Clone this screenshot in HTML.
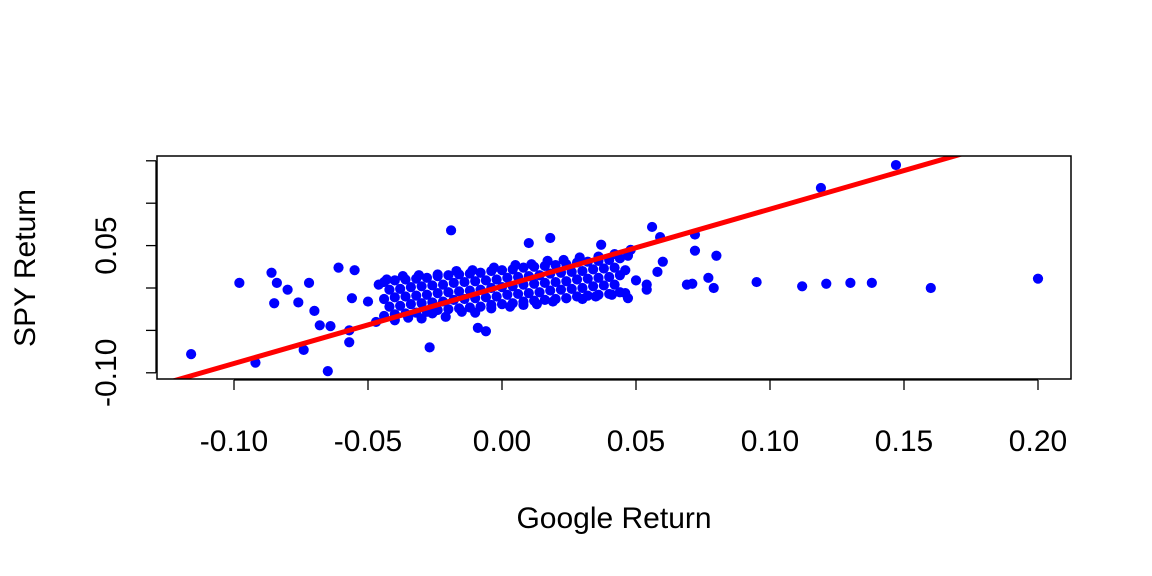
<!DOCTYPE html>
<html><head><meta charset="utf-8"><style>
html,body{margin:0;padding:0;background:#fff;}
svg{display:block;font-family:"Liberation Sans",Arial,sans-serif;}
</style></head><body>
<svg id="chart" width="1152" height="576" viewBox="0 0 1152 576"></svg>
<script>
const xTicks=[-0.10,-0.05,0.00,0.05,0.10,0.15,0.20];
const xTickLabels=["-0.10","-0.05","0.00","0.05","0.10","0.15","0.20"];
const yTicks=[-0.10,-0.05,0.00,0.05,0.10,0.15];
const yTickLabels=["-0.10","","","0.05","",""];
const fitIntercept=0.002;
const fitSlope=0.91;
// dense cloud (approximate)
const cloudX=[-0.044,-0.040,-0.036,-0.032,-0.028,-0.024,-0.020,-0.016,-0.012,-0.008,-0.004,0.000,0.004,0.008,0.012,0.016,0.020,0.024,0.028,0.032,0.036,0.040,0.044];
const cloudC=[-0.013,-0.011,-0.010,-0.009,-0.008,-0.006,-0.005,-0.004,-0.003,-0.002,0.000,0.001,0.002,0.004,0.005,0.006,0.007,0.008,0.010,0.011,0.012,0.013,0.015];
const cloudX2=[-0.042,-0.038,-0.034,-0.030,-0.026,-0.022,-0.018,-0.014,-0.010,-0.006,-0.002,0.002,0.006,0.010,0.014,0.018,0.022,0.026,0.030,0.034,0.038,0.042];
const cloudC2=[-0.012,-0.011,-0.009,-0.008,-0.007,-0.006,-0.004,-0.003,-0.002,-0.001,0.000,0.002,0.003,0.004,0.005,0.007,0.008,0.009,0.010,0.012,0.013,0.014];
const cloudOffsetsA=[-0.02,0,0.02];
const cloudOffsetsB=[-0.01,0.01];
// looser fringe of the cloud
const fringeX=[-0.047,-0.046,-0.040,-0.035,-0.030,-0.026,-0.021,-0.015,-0.010,-0.004,0.003,0.008,0.013,0.019,0.024,0.030,0.035,0.041,0.046,-0.043,-0.037,-0.031,-0.024,-0.017,-0.011,-0.003,0.005,0.011,0.017,0.023,0.029,0.036,0.042,0.047,-0.050,0.050];
const fringeY=[-0.040,0.004,-0.038,-0.035,-0.036,-0.030,-0.034,-0.028,-0.029,-0.024,-0.022,-0.020,-0.019,-0.016,-0.012,-0.013,-0.010,-0.008,-0.006,0.010,0.014,0.015,0.016,0.020,0.021,0.024,0.027,0.028,0.032,0.033,0.036,0.037,0.040,0.038,-0.016,0.009];
// outliers
const outX=[-0.116,-0.098,-0.092,-0.086,-0.085,-0.084,-0.080,-0.076,-0.074,-0.072,-0.070,-0.068,-0.064,-0.065,-0.061,-0.057,-0.057,-0.055,-0.056,-0.027,-0.019,-0.009,-0.006,0.010,0.018,0.056,0.059,0.072,0.072,0.080,0.077,0.079,0.069,0.071,0.058,0.060,0.054,0.054,0.095,0.112,0.121,0.130,0.138,0.160,0.200,0.119,0.147,0.046,0.048,0.037,0.047];
const outY=[-0.078,0.006,-0.088,0.018,-0.018,0.006,-0.002,-0.017,-0.073,0.006,-0.027,-0.044,-0.045,-0.098,0.024,-0.064,-0.050,0.021,-0.012,-0.070,0.068,-0.047,-0.051,0.053,0.059,0.072,0.060,0.063,0.044,0.038,0.012,0.000,0.004,0.005,0.019,0.031,0.004,-0.002,0.007,0.002,0.005,0.006,0.006,0.000,0.011,0.118,0.145,0.021,0.045,0.051,-0.012];

const NS="http://www.w3.org/2000/svg";
const svg=document.getElementById('chart');
const L=157,R=1071,T=156,B=379;
const xs=v=>502+v*2680;
const ys=v=>288-v*848;
function mk(t,a){const e=document.createElementNS(NS,t);for(const k in a)e.setAttribute(k,a[k]);svg.appendChild(e);return e;}

function pt(x,y){
  const c=mk('circle',{cx:xs(x),cy:ys(y),r:5.1,fill:'#0000ff'});
  
  
}
cloudX.forEach((x,i)=>cloudOffsetsA.forEach(o=>pt(x,cloudC[i]+o)));
cloudX2.forEach((x,i)=>cloudOffsetsB.forEach(o=>pt(x,cloudC2[i]+o)));
fringeX.forEach((x,i)=>pt(x,fringeY[i]));
outX.forEach((x,i)=>pt(x,outY[i]));

const defs=mk('defs',{});
const cp=document.createElementNS(NS,'clipPath');cp.setAttribute('id','clip');
const cr=document.createElementNS(NS,'rect');cr.setAttribute('x',L);cr.setAttribute('y',T);cr.setAttribute('width',R-L);cr.setAttribute('height',B-T);
cp.appendChild(cr);defs.appendChild(cp);
const x0=-0.14,x1=0.2;
const fl=mk('line',{x1:xs(x0),y1:ys(fitIntercept+fitSlope*x0),x2:xs(x1),y2:ys(fitIntercept+fitSlope*x1),stroke:'#ff0000','stroke-width':5,'clip-path':'url(#clip)'});



const bx=mk('rect',{x:L,y:T,width:R-L,height:B-T,fill:'none',stroke:'#000','stroke-width':1.5});



const xa=mk('line',{x1:xs(xTicks[0]),y1:B+1,x2:xs(xTicks[xTicks.length-1]),y2:B+1,stroke:'#000','stroke-width':1.3});


xTicks.forEach((v,i)=>{
  mk('line',{x1:xs(v),y1:B+1,x2:xs(v),y2:B+11,stroke:'#000','stroke-width':1.3});
  const t=mk('text',{x:xs(v),y:451,'font-size':30,'text-anchor':'middle',fill:'#000'});
  t.textContent=xTickLabels[i];
  
  
});
const ya=mk('line',{x1:L-1,y1:ys(yTicks[0]),x2:L-1,y2:ys(yTicks[yTicks.length-1]),stroke:'#000','stroke-width':1.3});


yTicks.forEach((v,i)=>{
  mk('line',{x1:L-1,y1:ys(v),x2:L-11,y2:ys(v),stroke:'#000','stroke-width':1.3});
  if(yTickLabels[i]){
    const t=mk('text',{x:0,y:0,'font-size':30,'text-anchor':'middle',fill:'#000',transform:`translate(116,${ys(v)}) rotate(-90)`});
    t.textContent=yTickLabels[i];
    
    
  }
});
const xt=mk('text',{x:614,y:528,'font-size':30,'text-anchor':'middle',fill:'#000'});
xt.textContent='Google Return';


const yt=mk('text',{x:0,y:0,'font-size':30,'text-anchor':'middle',fill:'#000',transform:'translate(35,268) rotate(-90)'});
yt.textContent='SPY Return';


</script>
</body></html>
